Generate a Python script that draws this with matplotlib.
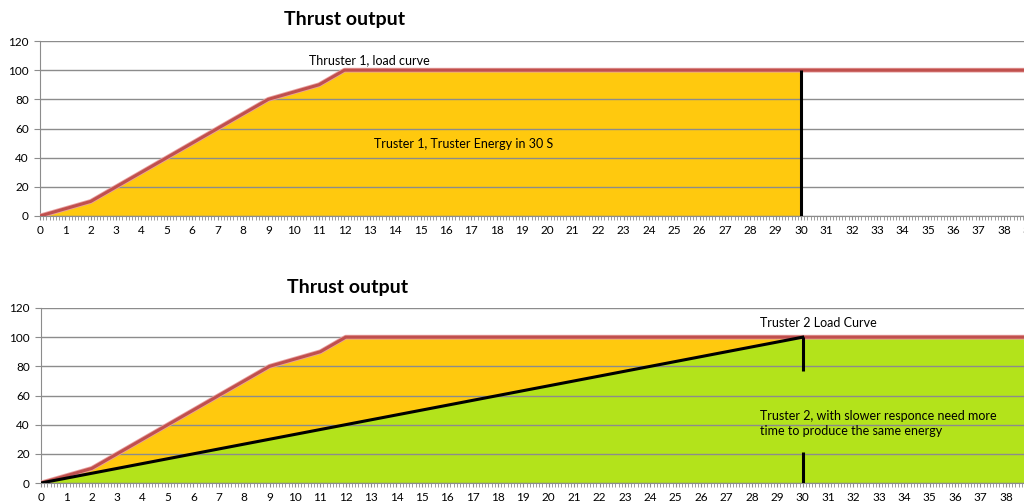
import matplotlib
import matplotlib.pyplot as plt
import numpy as np

matplotlib.use('Agg')

# seconds and thrust (%) for thruster 1 load curve
time1 = np.array([0, 1, 2, 3, 4, 5, 6, 7, 8, 9, 10, 11, 12, 30, 40])
load1 = np.array([0, 5, 10, 20, 30, 40, 50, 60, 70, 80, 85, 90, 100, 100, 100])

# thruster 2 load curve (straight ramp up to 30 s)
time2 = np.array([0, 30, 40])
load2 = np.array([0, 100, 100])

xlabels = list(range(0, 40))
ylabels = [0, 20, 40, 60, 80, 100, 120]

ORANGE = '#FFC90E'
GREEN = '#B3E31B'
RED = '#C0504D'
GRID = '#8C8C8C'

plt.rcParams['font.family'] = ['Lato', 'DejaVu Sans']

fig = plt.figure(figsize=(10.24, 5.04), dpi=100)


def style_axes(ax):
    ax.set_xlim(0, 40)
    ax.set_ylim(0, 120)
    ax.set_xticks(xlabels)
    ax.set_xticks(np.arange(0, 40.01, 0.125), minor=True)
    ax.set_yticks(ylabels)
    ax.tick_params(axis='x', which='major', length=3, color=GRID, labelsize=8.5, pad=3.5)
    ax.tick_params(axis='x', which='minor', length=3, color=GRID)
    ax.tick_params(axis='y', length=4, color=GRID, labelsize=8.5, pad=4)
    for s in ['top', 'right']:
        ax.spines[s].set_visible(False)
    for s in ['left', 'bottom']:
        ax.spines[s].set_color(GRID)
    ax.grid(axis='y', color=GRID, linewidth=1)
    ax.set_axisbelow(False)


# top chart: thruster 1
ax1 = fig.add_axes([40 / 1024, 1 - 216 / 504, 40 * 25.37 / 1024, 175 / 504])
style_axes(ax1)
ax1.fill_between(time1, load1, where=time1 <= 30, color=ORANGE, linewidth=0, zorder=0.5)
ax1.plot(time1, load1, color='#E8A0A0', linewidth=3.4, zorder=3)
ax1.plot(time1, load1, color=RED, linewidth=2.2, zorder=3)
ax1.vlines(30, 0, 100, color='black', linewidth=2.2, zorder=4)
ax1.text(13, 107, 'Thruster 1, load curve', ha='center', va='center', fontsize=9)
ax1.text(16.7, 49.5, 'Truster 1, Truster Energy in 30 S', ha='center', va='center', fontsize=9)
fig.text(345 / 1024, 1 - 20 / 504, 'Thrust output', ha='center', va='center',
         fontsize=14, fontweight='bold')

# bottom chart: thruster 1 vs thruster 2
ax2 = fig.add_axes([41 / 1024, 1 - 483 / 504, 40 * 25.39 / 1024, 175 / 504])
style_axes(ax2)
ax2.fill_between(time1, load1, where=time1 <= 30, color=ORANGE, linewidth=0, zorder=0.4)
ax2.fill_between(time2, load2, color=GREEN, linewidth=0, zorder=0.5)
ax2.plot(time1, load1, color='#E8A0A0', linewidth=3.4, zorder=3)
ax2.plot(time1, load1, color=RED, linewidth=2.2, zorder=3)
ax2.plot(time2[:2], load2[:2], color='black', linewidth=2.2, zorder=4)
ax2.vlines(30, 77, 100, color='black', linewidth=2.2, zorder=4)
ax2.vlines(30, 0, 21, color='black', linewidth=2.2, zorder=4)
ax2.text(30.6, 110, 'Truster 2 Load Curve', ha='center', va='center', fontsize=9)
ax2.text(28.3, 40.5, 'Truster 2, with slower responce need more\ntime to produce the same energy',
         ha='left', va='center', fontsize=9, linespacing=1.3)
fig.text(348 / 1024, 1 - 287 / 504, 'Thrust output', ha='center', va='center',
         fontsize=14, fontweight='bold')

fig.savefig('out.png', dpi=100)
